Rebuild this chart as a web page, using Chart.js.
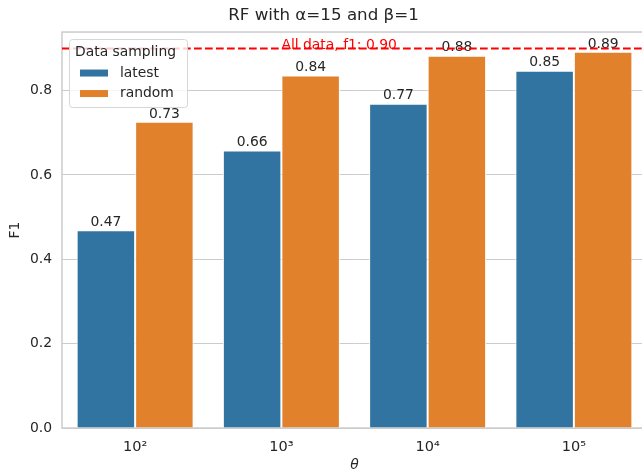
<!DOCTYPE html>
<html>
<head>
<meta charset="utf-8">
<script src="https://cdn.jsdelivr.net/npm/chart.js@4/dist/chart.umd.min.js"></script>
<style>
  html, body { margin: 0; padding: 0; background: #fff; overflow: hidden; }
  #wrap { width: 642px; height: 471px; overflow: hidden; }
</style>
</head>
<body>
<div id="wrap"><canvas id="chart" width="650" height="471"></canvas></div>
<script>
/* ===== data ===== */
var thetaLabels = ['10\u00b2', '10\u00b3', '10\u2074', '10\u2075'];
var latestF1 = [0.469, 0.658, 0.769, 0.847];
var randomF1 = [0.726, 0.836, 0.883, 0.892];
var allDataF1 = 0.90;
var yTicks = [0, 0.2, 0.4, 0.6, 0.8];

/* ===== styles ===== */
var FONT = 'DejaVu Sans';
var TEXT = '#262626';
var GRID = '#cccccc';

// value on top of each bar
var barLabels = {
    id: 'barLabels',
    afterDatasetsDraw: function(chart) {
        var ctx = chart.ctx;
        ctx.save();
        ctx.font = '13.9px "' + FONT + '"';
        ctx.fillStyle = TEXT;
        ctx.textAlign = 'center';
        ctx.textBaseline = 'bottom';
        chart.data.datasets.forEach(function(ds, i) {
            chart.getDatasetMeta(i).data.forEach(function(bar, j) {
                ctx.fillText(ds.data[j].toFixed(2), bar.x, bar.y - 1);
            });
        });
        ctx.restore();
    }
};

// red dashed "all data" line + frame around plot
var refLine = {
    id: 'refLine',
    beforeDatasetsDraw: function(chart) {
        var a = chart.chartArea, ctx = chart.ctx;
        ctx.save();
        ctx.strokeStyle = GRID;
        ctx.lineWidth = 1.5;
        ctx.strokeRect(a.left, a.top, a.right - a.left, a.bottom - a.top);
        ctx.restore();
    },
    afterDatasetsDraw: function(chart) {
        var a = chart.chartArea, ctx = chart.ctx;
        var y = chart.scales.y.getPixelForValue(allDataF1);
        ctx.save();
        ctx.strokeStyle = '#ff0000';
        ctx.lineWidth = 2;
        ctx.setLineDash([7.7, 3.3]);
        ctx.beginPath();
        ctx.moveTo(a.left, y);
        ctx.lineTo(a.right, y);
        ctx.stroke();
        ctx.setLineDash([]);
        ctx.font = '13.9px "' + FONT + '"';
        ctx.fillStyle = '#ff0000';
        ctx.textAlign = 'left';
        ctx.textBaseline = 'alphabetic';
        ctx.fillText('All data, f1: ' + allDataF1.toFixed(2), chart.scales.x.getPixelForValue(1), y + 1);
        ctx.restore();
    }
};

// matplotlib style legend box with title
var boxLegend = {
    id: 'boxLegend',
    afterDraw: function(chart) {
        var a = chart.chartArea, ctx = chart.ctx;
        var x0 = a.left + 7, y0 = a.top + 7, w = 118, h = 68;
        ctx.save();
        ctx.beginPath();
        ctx.roundRect(x0 + 0.5, y0 + 0.5, w, h, 3);
        ctx.fillStyle = 'rgba(255,255,255,0.8)';
        ctx.fill();
        ctx.strokeStyle = '#d6d6d6';
        ctx.lineWidth = 1;
        ctx.stroke();
        ctx.font = '13.9px "' + FONT + '"';
        ctx.fillStyle = TEXT;
        ctx.textBaseline = 'middle';
        ctx.fillText('Data sampling', x0 + 6, y0 + 13);
        chart.data.datasets.forEach(function(ds, i) {
            var cy = y0 + 34 + i * 20.5;
            ctx.fillStyle = ds.backgroundColor;
            ctx.fillRect(x0 + 11, cy - 3.5, 28, 7);
            ctx.fillStyle = TEXT;
            ctx.fillText(ds.label, x0 + 51, cy);
        });
        ctx.restore();
    }
};

var ctx = document.getElementById('chart');
var chart = new Chart(ctx, {
    type: 'bar',
    data: {
        labels: thetaLabels,
        datasets: [{
            label: 'latest',
            data: latestF1,
            backgroundColor: '#3274a1',
            borderColor: '#ffffff',
            borderWidth: 1
        }, {
            label: 'random',
            data: randomF1,
            backgroundColor: '#e1812c',
            borderColor: '#ffffff',
            borderWidth: 1
        }]
    },
    options: {
        responsive: false,
        animation: false,
        events: [],
        categoryPercentage: 0.8,
        barPercentage: 1.0,
        layout: { padding: { left: 0, right: 3, top: 0, bottom: 0 } },
        plugins: {
            legend: { display: false },
            tooltip: { enabled: false },
            title: {
                display: true,
                text: 'RF with \u03b1=15 and \u03b2=1',
                color: TEXT,
                font: { family: FONT, size: 16.7, weight: 'normal', lineHeight: 1.2 },
                padding: { top: 6, bottom: 6 }
            }
        },
        scales: {
            x: {
                grid: { display: false },
                border: { display: false },
                ticks: {
                    color: TEXT,
                    padding: 3,
                    font: { family: FONT, size: 14.5 }
                },
                title: {
                    display: true,
                    text: '\u03b8',
                    color: TEXT,
                    font: { family: FONT, size: 13.9, style: 'italic', lineHeight: 1.0 },
                    padding: { top: 0, bottom: -1 }
                },
                afterFit: function(s) { s.height = 43; }
            },
            y: {
                min: 0,
                max: 0.939,
                grid: { color: GRID, lineWidth: 1, drawTicks: false },
                border: { display: false },
                afterBuildTicks: function(s) {
                    s.ticks = yTicks.map(function(v) { return { value: v }; });
                },
                ticks: {
                    color: TEXT,
                    padding: 10,
                    font: { family: FONT, size: 13.9 },
                    callback: function(v) { return v.toFixed(1); }
                },
                title: {
                    display: true,
                    text: 'F1',
                    color: TEXT,
                    font: { family: FONT, size: 13.9 },
                    padding: { top: 7 }
                },
                afterFit: function(s) { s.width = 62; }
            }
        }
    },
    plugins: [barLabels, refLine, boxLegend]
});
</script>
</body>
</html>
